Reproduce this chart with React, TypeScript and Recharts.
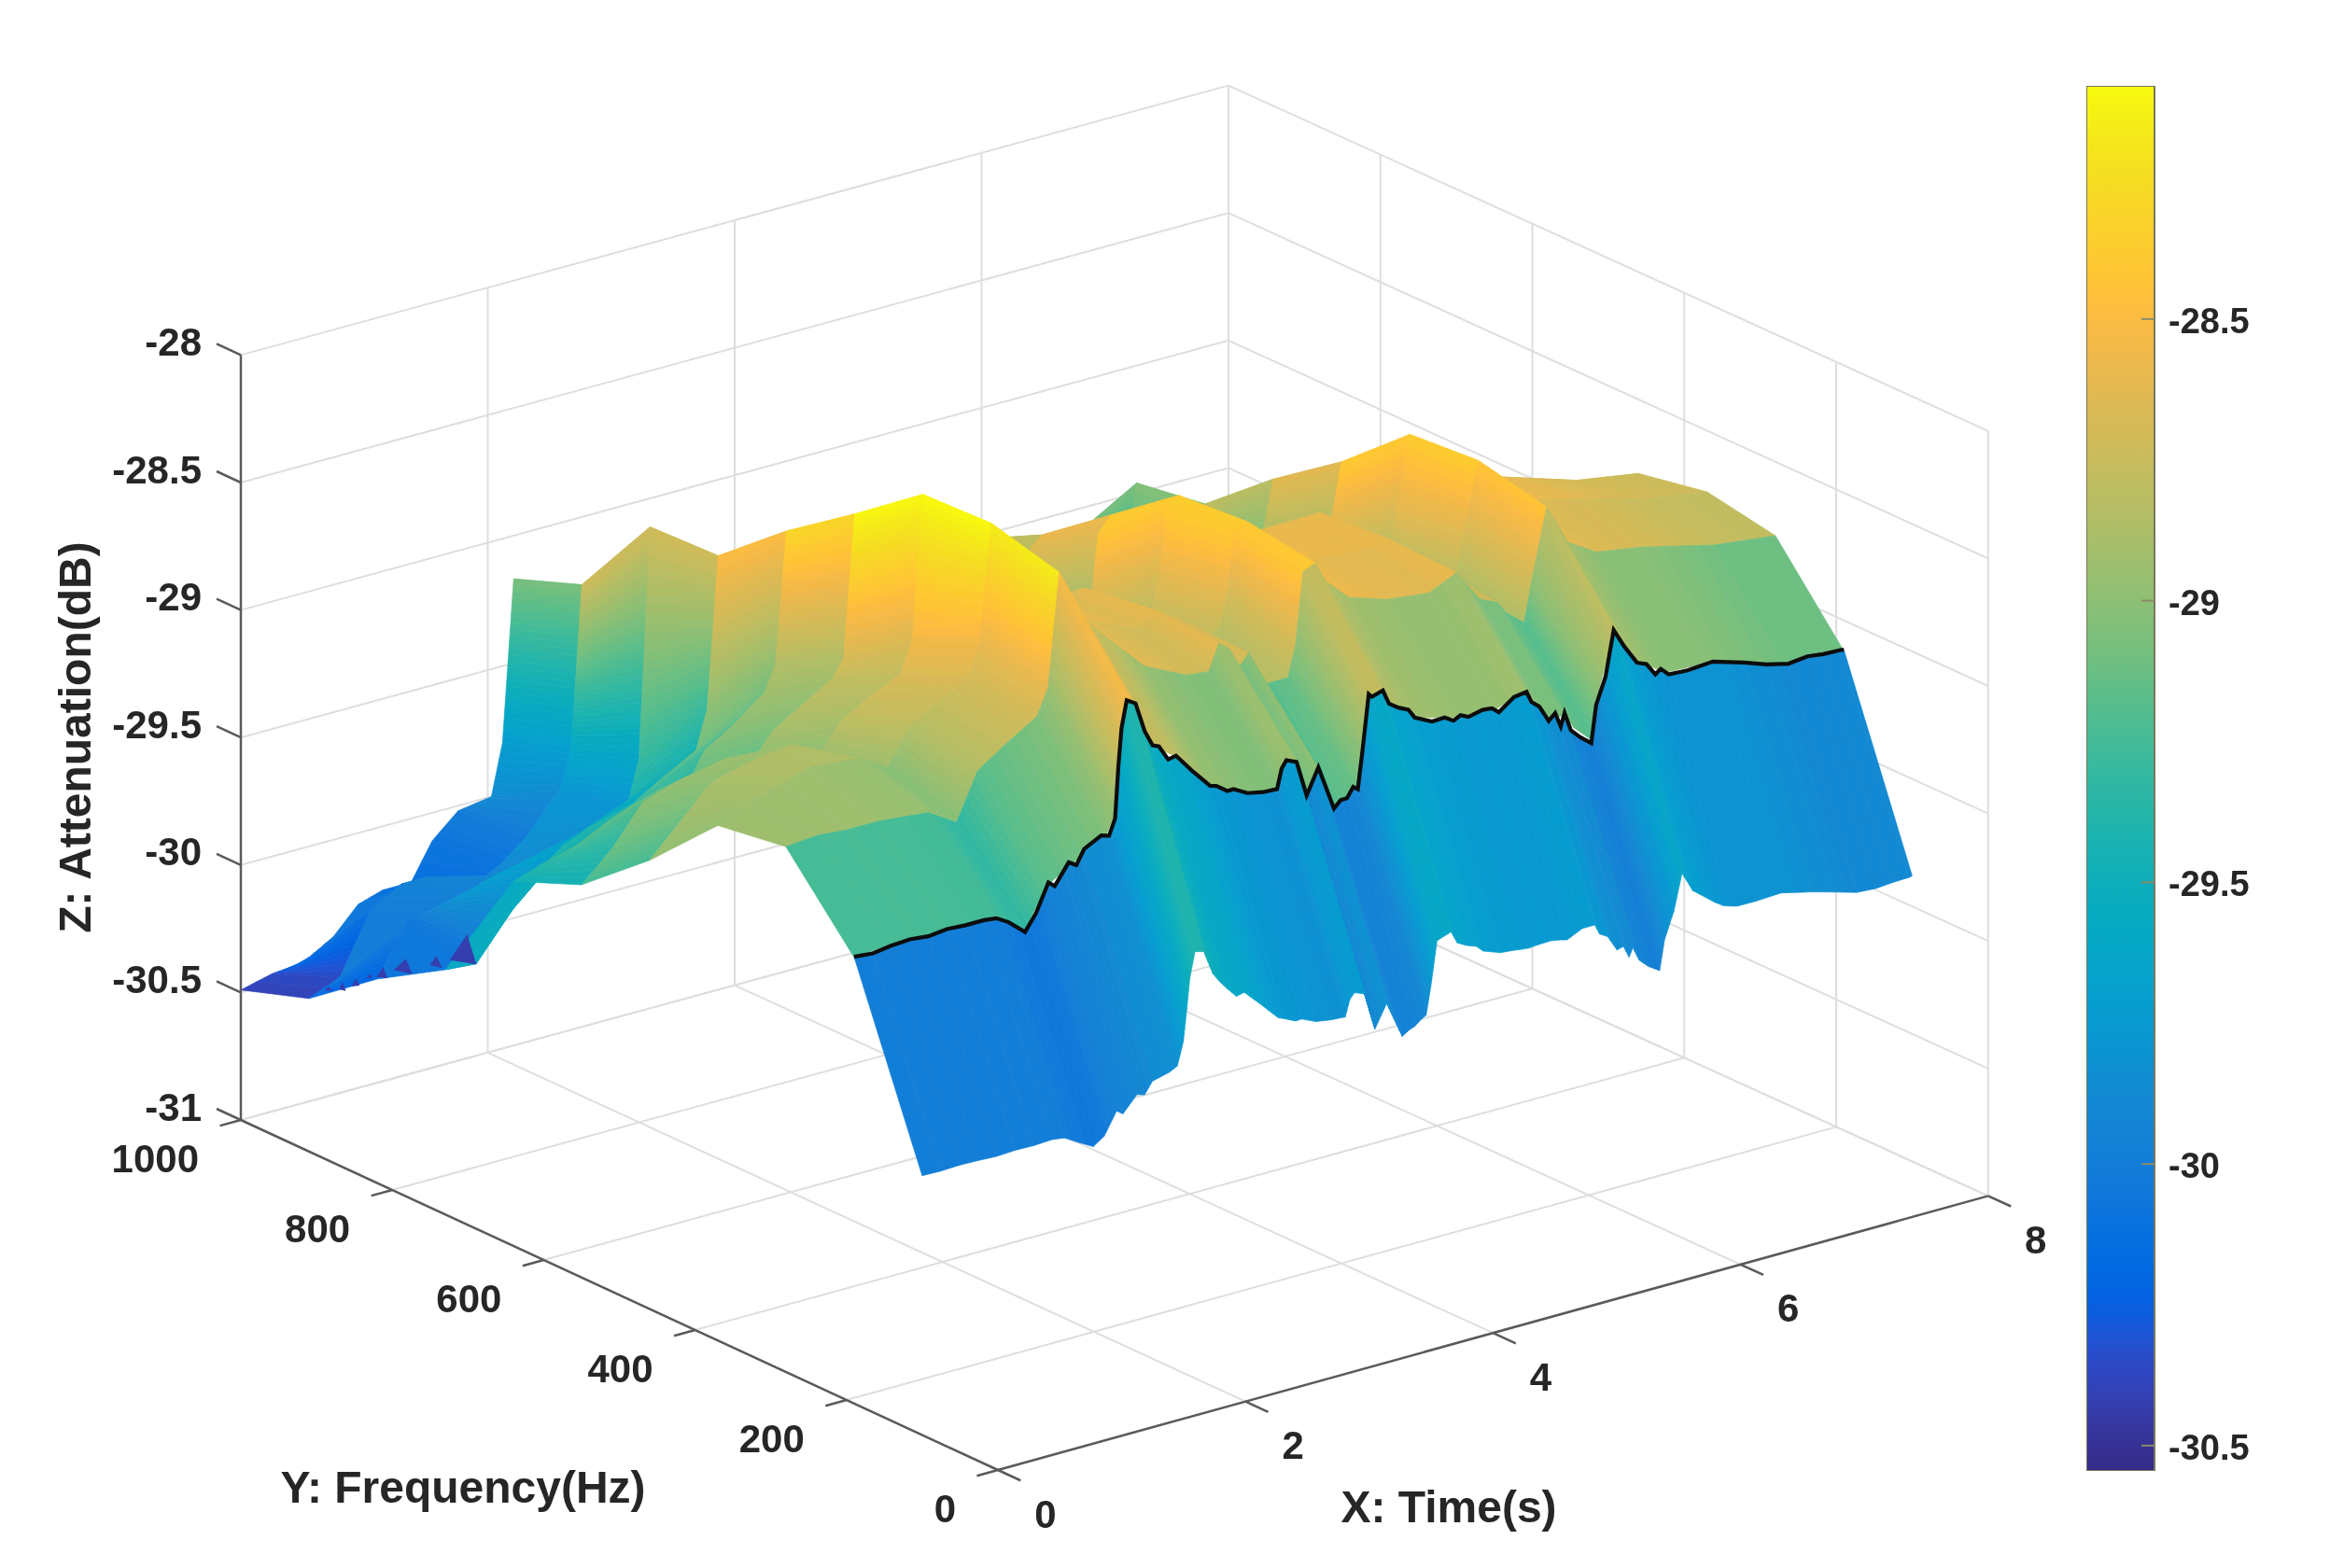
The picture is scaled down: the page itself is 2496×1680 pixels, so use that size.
import { ComposedChart, Bar, Scatter, XAxis, YAxis } from "recharts";

const times = [0, 0.25, 0.5, 0.75, 0.95, 1.15, 1.38, 1.55, 1.76, 2.03, 2.12, 2.21, 2.29, 2.43, 2.6, 2.9, 3.24, 3.42, 3.5, 3.58, 3.66, 3.74, 3.88, 4.06, 4.12, 4.18, 4.28, 4.36, 4.55, 4.86, 5.2, 5.42, 5.61, 5.75, 5.82, 5.97, 6.03, 6.15, 6.32, 6.55, 6.92, 7.5, 8];
const freqs = [190, 280, 370, 460, 550, 640, 730, 820, 910, 1000];

const z190 = [-29.25, -29.24, -29.24, -29.24, -29.25, -29.25, -29.33, -29.18, -29.12, -29.05, -28.96, -28.53, -28.58, -28.75, -28.81, -28.97, -29.04, -29.05, -28.94, -28.96, -29.11, -29.0, -29.19, -29.13, -29.01, -28.78, -28.78, -28.85, -28.92, -28.96, -28.97, -28.93, -29.07, -29.07, -29.13, -29.2, -28.99, -28.79, -28.93, -29.01, -29.02, -29.1, -29.12];
const z280 = [-28.94, -28.93, -28.94, -28.94, -28.95, -28.96, -29.03, -28.85, -28.78, -28.7, -28.6, -28.16, -28.24, -28.38, -28.47, -28.62, -28.7, -28.71, -28.61, -28.64, -28.73, -28.68, -28.82, -28.82, -28.7, -28.42, -28.4, -28.48, -28.57, -28.62, -28.64, -28.59, -28.72, -28.75, -28.8, -28.86, -28.7, -28.43, -28.59, -28.66, -28.69, -28.76, -28.79];
const z370 = [-28.98, -28.93, -28.89, -28.85, -28.86, -28.87, -28.94, -28.8, -28.74, -28.67, -28.55, -28.09, -28.16, -28.3, -28.4, -28.55, -28.63, -28.66, -28.6, -28.62, -28.7, -28.67, -28.78, -28.75, -28.62, -28.38, -28.36, -28.44, -28.53, -28.58, -28.6, -28.58, -28.68, -28.72, -28.76, -28.8, -28.65, -28.37, -28.5, -28.58, -28.62, -28.7, -28.74];
const z460 = [-29.24, -29.12, -29.0, -28.97, -28.95, -28.94, -29.0, -28.9, -28.84, -28.78, -28.67, -28.1, -28.18, -28.32, -28.42, -28.56, -28.64, -28.68, -28.64, -28.66, -28.74, -28.72, -28.82, -28.8, -28.68, -28.42, -28.38, -28.45, -28.54, -28.6, -28.62, -28.6, -28.7, -28.74, -28.78, -28.82, -28.7, -28.39, -28.52, -28.6, -28.66, -28.75, -28.79];
const z550 = [-29.46, -29.35, -29.2, -29.16, -29.14, -29.12, -29.16, -29.06, -29.0, -28.92, -28.85, -28.3, -28.38, -28.52, -28.62, -28.76, -28.85, -28.9, -28.86, -28.88, -28.96, -28.94, -29.02, -29.0, -28.9, -28.64, -28.58, -28.65, -28.74, -28.8, -28.83, -28.8, -28.9, -28.94, -28.98, -29.02, -28.92, -28.62, -28.74, -28.8, -28.84, -28.92, -28.95];
const z640 = [-29.57, -29.53, -29.5, -29.44, -29.4, -29.37, -29.4, -29.26, -29.2, -29.1, -29.0, -28.49, -28.57, -28.7, -28.8, -28.92, -29.0, -29.05, -29.02, -29.04, -29.1, -29.08, -29.16, -29.14, -29.04, -28.82, -28.78, -28.83, -28.92, -28.97, -29.0, -28.97, -29.05, -29.08, -29.12, -29.15, -29.08, -28.81, -28.9, -28.95, -29.0, -29.04, -29.06];
const z730 = [-30.04, -30.05, -29.85, -29.75, -29.68, -29.64, -29.66, -29.58, -29.52, -29.45, -29.3, -28.71, -28.78, -28.9, -29.0, -29.1, -29.18, -29.22, -29.2, -29.22, -29.28, -29.26, -29.32, -29.3, -29.22, -29.02, -28.92, -28.98, -29.06, -29.12, -29.15, -29.12, -29.2, -29.22, -29.26, -29.3, -29.24, -29.03, -29.1, -29.14, -29.18, -29.23, -29.25];
const z820 = [-30.2, -30.0, -29.98, -29.95, -29.92, -29.9, -29.92, -29.86, -29.82, -29.78, -29.62, -28.72, -28.8, -28.95, -29.1, -29.22, -29.3, -29.34, -29.32, -29.34, -29.4, -29.38, -29.44, -29.42, -29.35, -29.18, -29.1, -29.16, -29.24, -29.3, -29.32, -29.3, -29.36, -29.38, -29.42, -29.46, -29.38, -29.07, -29.16, -29.22, -29.28, -29.36, -29.4];
const z910 = [-30.4, -30.35, -30.12, -30.05, -30.05, -30.15, -30.12, -30.08, -30.0, -29.85, -29.72, -29.07, -29.12, -29.25, -29.38, -29.5, -29.58, -29.62, -29.6, -29.62, -29.68, -29.66, -29.72, -29.7, -29.62, -29.45, -29.35, -29.4, -29.48, -29.54, -29.57, -29.55, -29.62, -29.64, -29.68, -29.72, -29.64, -29.42, -29.5, -29.54, -29.58, -29.64, -29.7];
const z1000 = [-30.49, -30.46, -30.45, -30.38, -30.28, -30.25, -30.25, -30.11, -30.02, -30.0, -29.8, -29.17, -29.22, -29.34, -29.46, -29.58, -29.66, -29.7, -29.68, -29.7, -29.76, -29.74, -29.8, -29.78, -29.7, -29.52, -29.4, -29.46, -29.54, -29.6, -29.63, -29.61, -29.68, -29.7, -29.74, -29.78, -29.7, -29.6, -29.62, -29.65, -29.68, -29.75, -29.8];
const surfaceRows = [z190, z280, z370, z460, z550, z640, z730, z820, z910, z1000];

// the front wall (100 to 190 Hz) and the black curve along its top, read at finer time steps
const frontTimes = [0, 0.15, 0.3, 0.45, 0.6, 0.75, 0.9, 1.05, 1.15, 1.25, 1.382, 1.471, 1.571, 1.622, 1.735, 1.797, 1.86, 1.998, 2.061, 2.11, 2.137, 2.162, 2.204, 2.275, 2.35, 2.413, 2.464, 2.539, 2.602, 2.728, 2.878, 2.928, 3.017, 3.067, 3.18, 3.306, 3.419, 3.456, 3.494, 3.577, 3.658, 3.753, 3.879, 3.934, 3.984, 4.035, 4.072, 4.11, 4.16, 4.186, 4.274, 4.324, 4.399, 4.481, 4.532, 4.672, 4.774, 4.845, 4.902, 4.965, 5.08, 5.156, 5.212, 5.335, 5.436, 5.475, 5.539, 5.615, 5.667, 5.712, 5.743, 5.794, 5.87, 5.959, 5.998, 6.074, 6.14, 6.227, 6.329, 6.405, 6.477, 6.52, 6.584, 6.737, 6.941, 7.196, 7.375, 7.553, 7.706, 7.833, 7.973, 8];
const frontLow = [-29.983, -29.985, -29.982, -29.984, -29.988, -29.984, -29.986, -29.982, -29.989, -30.018, -30.054, -30.025, -29.94, -29.958, -29.898, -29.907, -29.862, -29.845, -29.83, -29.74, -29.62, -29.5, -29.4, -29.409, -29.507, -29.55, -29.58, -29.62, -29.613, -29.674, -29.75, -29.76, -29.781, -29.78, -29.805, -29.815, -29.819, -29.755, -29.734, -29.75, -29.899, -29.811, -29.957, -29.94, -29.93, -29.91, -29.9, -29.792, -29.62, -29.615, -29.6, -29.65, -29.67, -29.685, -29.71, -29.735, -29.74, -29.745, -29.748, -29.745, -29.743, -29.75, -29.757, -29.729, -29.729, -29.77, -29.788, -29.851, -29.844, -29.892, -29.859, -29.915, -29.95, -29.978, -29.863, -29.76, -29.62, -29.7, -29.74, -29.77, -29.793, -29.8, -29.809, -29.81, -29.805, -29.835, -29.86, -29.885, -29.89, -29.885, -29.883, -29.88];
const blackLineZ = [-29.248, -29.255, -29.245, -29.24, -29.248, -29.24, -29.245, -29.245, -29.251, -29.28, -29.336, -29.274, -29.167, -29.188, -29.11, -29.129, -29.074, -29.04, -29.049, -28.988, -28.784, -28.641, -28.537, -28.559, -28.679, -28.742, -28.753, -28.814, -28.808, -28.882, -28.963, -28.97, -29.002, -29.001, -29.032, -29.045, -29.048, -28.973, -28.945, -28.963, -29.105, -29.008, -29.186, -29.16, -29.16, -29.122, -29.136, -28.988, -28.775, -28.789, -28.776, -28.834, -28.86, -28.879, -28.917, -28.951, -28.949, -28.971, -28.957, -28.972, -28.96, -28.964, -28.987, -28.944, -28.937, -28.982, -29.009, -29.075, -29.051, -29.11, -29.061, -29.136, -29.173, -29.208, -29.064, -28.963, -28.789, -28.866, -28.942, -28.958, -29.008, -28.992, -29.022, -29.027, -29.02, -29.058, -29.089, -29.11, -29.102, -29.11, -29.113, -29.115];

// narrow dark dips along the t=0 edge at the far left
const dipFreqs = [[889, 878, 884.5], [870, 861, 866], [854, 843, 848], [834, 827, 829], [821, 806, 812], [798, 773.5, 782], [750, 734, 742], [724, 689, 701]];
const dipZ = [[-30.341, -30.326, -30.318], [-30.309, -30.303, -30.274], [-30.275, -30.257, -30.236], [-30.217, -30.207, -30.191], [-30.193, -30.178, -30.142], [-30.134, -30.118, -30.068], [-30.049, -30.039, -30.002], [-29.994, -29.963, -29.861]];

const zTicks = [-28, -28.5, -29, -29.5, -30, -30.5, -31];
const freqTicks = [0, 200, 400, 600, 800, 1000];
const timeTicks = [0, 2, 4, 6, 8];
const colorbarTicks = [-28.5, -29, -29.5, -30, -30.5];
const colorLimits = [-30.545, -28.086];

const parula = [
  [0.2081, 0.1663, 0.5292], [0.2116, 0.1898, 0.5777], [0.2123, 0.2138, 0.627], [0.2081, 0.2386, 0.6771],
  [0.1959, 0.2645, 0.7279], [0.1707, 0.2919, 0.7792], [0.1253, 0.3242, 0.8303], [0.0591, 0.3598, 0.8683],
  [0.0117, 0.3875, 0.882], [0.006, 0.4086, 0.8828], [0.0165, 0.4266, 0.8786], [0.0329, 0.443, 0.872],
  [0.0498, 0.4586, 0.8641], [0.0629, 0.4737, 0.8554], [0.0723, 0.4887, 0.8467], [0.0779, 0.504, 0.8384],
  [0.0793, 0.52, 0.8312], [0.0749, 0.5375, 0.8263], [0.0641, 0.557, 0.824], [0.0488, 0.5772, 0.8228],
  [0.0343, 0.5966, 0.8199], [0.0265, 0.6137, 0.8135], [0.0239, 0.6287, 0.8038], [0.0231, 0.6418, 0.7913],
  [0.0228, 0.6535, 0.7768], [0.0267, 0.6642, 0.7607], [0.0384, 0.6743, 0.7436], [0.059, 0.6838, 0.7254],
  [0.0843, 0.6928, 0.7062], [0.1133, 0.7015, 0.6859], [0.1453, 0.7098, 0.6646], [0.1801, 0.7177, 0.6424],
  [0.2178, 0.725, 0.6193], [0.2586, 0.7317, 0.5954], [0.3022, 0.7376, 0.5712], [0.3482, 0.7424, 0.5473],
  [0.3953, 0.7459, 0.5244], [0.442, 0.7481, 0.5033], [0.4871, 0.7491, 0.484], [0.53, 0.7491, 0.4661],
  [0.5709, 0.7485, 0.4494], [0.6099, 0.7473, 0.4337], [0.6473, 0.7456, 0.4188], [0.6834, 0.7435, 0.4044],
  [0.7184, 0.7411, 0.3905], [0.7525, 0.7384, 0.3768], [0.7858, 0.7356, 0.3633], [0.8185, 0.7327, 0.3498],
  [0.8507, 0.7299, 0.336], [0.8824, 0.7274, 0.3217], [0.9139, 0.7258, 0.3063], [0.945, 0.7261, 0.2886],
  [0.9739, 0.7314, 0.2666], [0.9938, 0.7455, 0.2403], [0.999, 0.7653, 0.2164], [0.9955, 0.7861, 0.1967],
  [0.988, 0.8066, 0.1794], [0.9789, 0.8271, 0.1633], [0.9697, 0.8481, 0.1475], [0.9626, 0.8705, 0.1309],
  [0.9589, 0.8949, 0.1132], [0.9598, 0.9218, 0.0948], [0.9661, 0.9514, 0.0755], [0.9763, 0.9831, 0.0538],
];

const FONT = '"Liberation Sans", Arial, sans-serif';
const TEXT = "#262626";

// view of the box, a touch of perspective at the far corner
function project(t: number, f: number, z: number) {
  return {
    px: 1069 + 132.6 * t - 0.811 * f - 0.00035 * t * f,
    py: 1575 - 36.7 * t - 0.375 * f + 0.0006 * t * f - 273.2 * (z + 31),
  };
}

function colorOf(z: number): string {
  const u = (z - colorLimits[0]) / (colorLimits[1] - colorLimits[0]);
  const pos = Math.max(0, Math.min(1, u)) * (parula.length - 1);
  const i = Math.min(parula.length - 2, Math.floor(pos));
  const k = pos - i;
  const ch = (n: number) => Math.round(255 * (parula[i][n] * (1 - k) + parula[i + 1][n] * k));
  return `rgb(${ch(0)},${ch(1)},${ch(2)})`;
}

// far quads first, the view looks from the t=0, f=0 corner
const quadPoints: any[] = [];
let quadId = 0;
function addStrip(ts: number[], low: number[], high: number[], f0: number, f1: number) {
  for (let i = ts.length - 2; i >= 0; i--) {
    const corners = [
      project(ts[i], f0, low[i]),
      project(ts[i + 1], f0, low[i + 1]),
      project(ts[i + 1], f1, high[i + 1]),
      project(ts[i], f1, high[i]),
    ];
    corners.forEach((c, corner) => quadPoints.push({ ...c, quadId, corner, zA: low[i], zB: low[i + 1] }));
    quadId++;
  }
}
for (let j = freqs.length - 2; j >= 0; j--) {
  addStrip(times, surfaceRows[j], surfaceRows[j + 1], freqs[j], freqs[j + 1]);
}
addStrip(frontTimes, frontLow, blackLineZ, 100, 190);

const collected = new Map<number, { x: number; y: number }[]>();

function QuadShape(props: any) {
  const { cx, cy, payload } = props;
  const list = collected.get(payload.quadId) ?? [];
  list[payload.corner] = { x: cx, y: cy };
  collected.set(payload.quadId, list);
  if (payload.corner !== 3) return <g />;
  const [a, b, c, d] = list;
  // colour follows time along the low-frequency edge of each cell
  const n = Math.max(1, Math.ceil(Math.abs(payload.zB - payload.zA) / 0.025));
  const strips = [];
  for (let s = 0; s < n; s++) {
    const u0 = s / n;
    const u1 = (s + 1) / n;
    const lerp = (p: any, q: any, u: number) => `${p.x + (q.x - p.x) * u},${p.y + (q.y - p.y) * u}`;
    const color = colorOf(payload.zA + ((payload.zB - payload.zA) * (u0 + u1)) / 2);
    strips.push(
      <polygon
        key={s}
        points={`${lerp(a, b, u0)} ${lerp(a, b, u1)} ${lerp(d, c, u1)} ${lerp(d, c, u0)}`}
        fill={color}
        stroke={color}
        strokeWidth={0.7}
      />,
    );
  }
  return <g>{strips}</g>;
}

const dipPoints: any[] = [];
dipFreqs.forEach((fs, d) => fs.forEach((f, corner) => dipPoints.push({ ...project(0, f, dipZ[d][corner]), d, corner })));
const dipCollected = new Map<number, string[]>();

function DipShape(props: any) {
  const { cx, cy, payload } = props;
  const list = dipCollected.get(payload.d) ?? [];
  list[payload.corner] = `${cx},${cy}`;
  dipCollected.set(payload.d, list);
  if (payload.corner !== 2) return <g />;
  return <polygon points={list.join(" ")} fill={colorOf(-30.42)} />;
}

// every straight line of the box as a pair of points
const segmentPoints: any[] = [];
const axisPoints: any[] = [];
let segId = 0;
function addSegment(list: any[], p: any, q: any) {
  list.push({ ...p, segId, end: 0 }, { ...q, segId, end: 1 });
  segId++;
}
timeTicks.forEach((t) => {
  addSegment(segmentPoints, project(t, 0, -31), project(t, 1000, -31));
  addSegment(segmentPoints, project(t, 1000, -31), project(t, 1000, -28));
});
freqTicks.forEach((f) => {
  addSegment(segmentPoints, project(0, f, -31), project(8, f, -31));
  addSegment(segmentPoints, project(8, f, -31), project(8, f, -28));
});
zTicks.forEach((z) => {
  addSegment(segmentPoints, project(0, 1000, z), project(8, 1000, z));
  addSegment(segmentPoints, project(8, 1000, z), project(8, 0, z));
});

addSegment(axisPoints, project(0, 1000, -31), project(0, 1000, -28));
addSegment(axisPoints, project(0, 1000, -31), project(0, 0, -31));
addSegment(axisPoints, project(0, 0, -31), project(8, 0, -31));
zTicks.forEach((z) => addSegment(axisPoints, project(0, 1000, z), project(0, 1032, z)));
freqTicks.forEach((f) => addSegment(axisPoints, project(0, f, -31), project(-0.17, f, -31)));
timeTicks.forEach((t) => addSegment(axisPoints, project(t, 0, -31), project(t, -30, -31)));

const segEnds = new Map<number, { x: number; y: number }>();

function makeSegmentShape(stroke: string, strokeWidth: number) {
  return function SegmentShape(props: any) {
    const { cx, cy, payload } = props;
    if (payload.end === 0) {
      segEnds.set(payload.segId, { x: cx, y: cy });
      return <g />;
    }
    const a = segEnds.get(payload.segId);
    if (!a) return <g />;
    return <line x1={a.x} y1={a.y} x2={cx} y2={cy} stroke={stroke} strokeWidth={strokeWidth} />;
  };
}

const blackLine = frontTimes.map((t, i) => project(t, 190, blackLineZ[i]));

const labelPoints = [
  ...zTicks.map((z) => {
    const p = project(0, 1000, z);
    return { px: p.px - 42, py: p.py - 14, text: String(z), anchor: "end", size: 42 };
  }),
  ...freqTicks.map((f) => {
    const p = project(0, f, -31);
    return { px: p.px - 45, py: p.py + 41, text: String(f), anchor: "end", size: 42 };
  }),
  ...timeTicks.map((t) => {
    const p = project(t, 0, -31);
    return { px: p.px + 51, py: p.py + 47, text: String(t), anchor: "middle", size: 42 };
  }),
  { px: 496, py: 1593, text: "Y: Frequency(Hz)", anchor: "middle", size: 48 },
  { px: 1552, py: 1614, text: "X: Time(s)", anchor: "middle", size: 48 },
  { px: 80, py: 790, text: "Z: Attenuation(dB)", anchor: "middle", size: 48, rotate: -90 },
];

function LabelShape(props: any) {
  const { cx, cy, payload } = props;
  return (
    <text
      x={cx}
      y={cy}
      textAnchor={payload.anchor}
      dominantBaseline="central"
      fontFamily={FONT}
      fontWeight={700}
      fontSize={payload.size}
      fill={TEXT}
      transform={payload.rotate ? `rotate(${payload.rotate} ${cx} ${cy})` : undefined}
    >
      {payload.text}
    </text>
  );
}

const colorbarData = [{ name: "z", range: colorLimits }];

function ColorbarTick(props: any) {
  const { x, y, payload } = props;
  return (
    <g>
      <line x1={x - 14} y1={y} x2={x} y2={y} stroke="#8a8a6a" strokeWidth={2} />
      <text x={x + 15} y={y + 2} dominantBaseline="central" fontFamily={FONT} fontWeight={700} fontSize={38} fill={TEXT}>
        {payload.value}
      </text>
    </g>
  );
}

export default function App() {
  return (
    <div
      style={{ position: "absolute", left: 0, top: 0, width: 2496, height: 1680, background: "#fff", filter: "blur(0.7px)" }}
    >
      <ComposedChart width={2496} height={1680} margin={{ top: 0, right: 0, bottom: 0, left: 0 }}>
        <XAxis type="number" dataKey="px" domain={[0, 2496]} hide />
        <YAxis type="number" dataKey="py" domain={[0, 1680]} reversed hide />
        <Scatter data={segmentPoints} shape={makeSegmentShape("#dedede", 2)} isAnimationActive={false} />
        <Scatter data={quadPoints} shape={QuadShape} isAnimationActive={false} />
        <Scatter data={dipPoints} shape={DipShape} isAnimationActive={false} />
        <Scatter
          data={blackLine}
          line={{ stroke: "#0c0c0c", strokeWidth: 4.2 }}
          shape={() => <g />}
          isAnimationActive={false}
        />
        <Scatter data={axisPoints} shape={makeSegmentShape("#5a5a5a", 2.5)} isAnimationActive={false} />
        <Scatter data={labelPoints} shape={LabelShape} isAnimationActive={false} />
      </ComposedChart>
      <div style={{ position: "absolute", left: 2235, top: 92 }}>
        <ComposedChart
          width={261}
          height={1484}
          data={colorbarData}
          margin={{ top: 0, right: 0, bottom: 0, left: 0 }}
          barCategoryGap={0}
        >
          <defs>
            <linearGradient id="parulaBar" x1="0" y1="1" x2="0" y2="0">
              {parula.map((c, i) => (
                <stop
                  key={i}
                  offset={i / (parula.length - 1)}
                  stopColor={`rgb(${Math.round(c[0] * 255)},${Math.round(c[1] * 255)},${Math.round(c[2] * 255)})`}
                />
              ))}
            </linearGradient>
          </defs>
          <XAxis dataKey="name" hide />
          <YAxis
            orientation="right"
            width={188}
            type="number"
            domain={colorLimits}
            ticks={colorbarTicks}
            axisLine={false}
            tickLine={false}
            tickSize={0}
            tickMargin={0}
            tick={ColorbarTick}
            interval={0}
          />
          <Bar dataKey="range" fill="url(#parulaBar)" stroke="#77775a" strokeWidth={2} isAnimationActive={false} />
        </ComposedChart>
      </div>
    </div>
  );
}
